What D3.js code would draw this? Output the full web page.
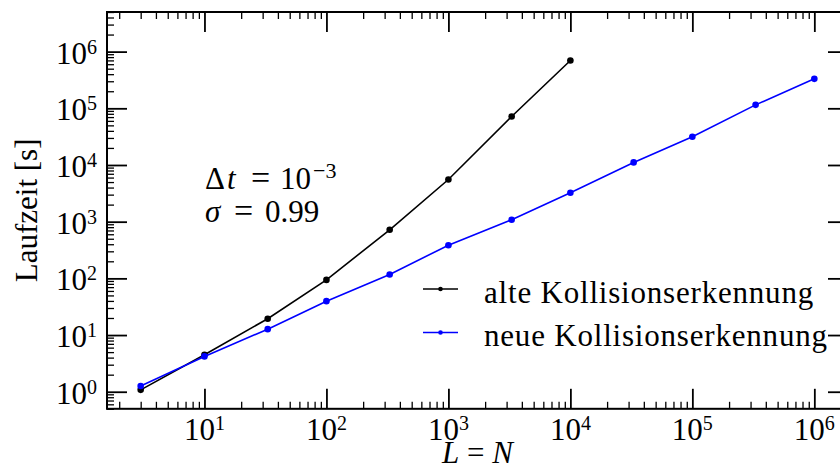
<!DOCTYPE html>
<html>
<head>
<meta charset="utf-8">
<script src="https://cdn.jsdelivr.net/npm/d3@7"></script>
<style>
  html, body { margin: 0; padding: 0; background: #fff; }
  svg { display: block; }
</style>
</head>
<body>
<svg id="chart" width="840" height="470"></svg>
<script>
// System sizes L = N and measured run times in seconds
const sizes = [3, 10, 33, 100, 330, 1000, 3300, 10000, 33000, 100000, 330000, 1000000];
const alteZeit = [1.08, 4.5, 19.4, 94, 720, 5550, 71700, 697000];
const neueZeit = [1.26, 4.2, 12.7, 39.6, 117, 385, 1080, 3235, 11100, 31400, 115000, 331000];

// Axis tick exponents (labels are drawn as 10^k)
const xTickExp = [1, 2, 3, 4, 5, 6];
const yTickExp = [0, 1, 2, 3, 4, 5, 6];

const seriesNames = ["alte Kollisionserkennung", "neue Kollisionserkennung"];
const seriesColors = ["#000000", "#0000ff"];

const FONT = "Liberation Serif";
const svg = d3.select("#chart").style("font-family", FONT);
const plotLeft = 107, plotRight = 848, plotTop = 12, plotBottom = 408.8;

const x = d3.scaleLog().domain([Math.pow(10, 0.201), Math.pow(10, 6.276)]).range([plotLeft, plotRight]);
const y = d3.scaleLog().domain([0.5, 5e6]).range([plotBottom, plotTop]);

// minor tick positions 2..9 x 10^k inside the domain
function minorTicks(scale) {
  const [a, b] = scale.domain();
  const out = [];
  for (let k = Math.floor(Math.log10(a)) - 1; k <= Math.ceil(Math.log10(b)); k++) {
    for (let m = 2; m <= 9; m++) {
      const v = m * Math.pow(10, k);
      if (v >= a && v <= b) out.push(v);
    }
  }
  return out;
}
const xMajor = xTickExp.map(e => Math.pow(10, e));
const yMajor = [-1].concat(yTickExp).map(e => Math.pow(10, e)).filter(v => v >= 0.5);

function tickAxis(axisFn, scale, vals, size, translate, width) {
  const g = svg.append("g").attr("transform", translate)
    .call(axisFn(scale).tickValues(vals).tickSize(size).tickSizeOuter(0).tickFormat(""));
  g.select(".domain").remove();
  g.selectAll(".tick line").attr("stroke", "#000").attr("stroke-width", width);
  return g;
}

// inward ticks on all four sides
tickAxis(d3.axisBottom, x, xMajor, -20, `translate(0,${plotBottom})`, 1.8);
tickAxis(d3.axisBottom, x, minorTicks(x), -7, `translate(0,${plotBottom})`, 1.3);
tickAxis(d3.axisTop, x, xMajor, -20, `translate(0,${plotTop})`, 1.8);
tickAxis(d3.axisTop, x, minorTicks(x), -7, `translate(0,${plotTop})`, 1.3);
tickAxis(d3.axisLeft, y, yMajor, -20, `translate(${plotLeft},0)`, 1.8);
tickAxis(d3.axisLeft, y, minorTicks(y), -7, `translate(${plotLeft},0)`, 1.3);
tickAxis(d3.axisRight, y, yMajor, -20, `translate(${plotRight},0)`, 1.8);
tickAxis(d3.axisRight, y, minorTicks(y), -7, `translate(${plotRight},0)`, 1.3);

// frame
svg.append("rect")
  .attr("x", plotLeft).attr("y", plotTop)
  .attr("width", plotRight - plotLeft).attr("height", plotBottom - plotTop)
  .attr("fill", "none").attr("stroke", "#000").attr("stroke-width", 2);

function txt(sel) {
  return sel.style("font-family", FONT).attr("fill", "#000");
}

// tick labels 10^k
const xl = txt(svg.append("g").selectAll("text").data(xTickExp).join("text"))
  .attr("x", d => x(Math.pow(10, d)))
  .attr("y", 440)
  .attr("text-anchor", "middle")
  .attr("font-size", 31);
xl.append("tspan").text("10");
xl.append("tspan").attr("dy", -10).attr("font-size", 20).text(d => d);

const yl = txt(svg.append("g").selectAll("text").data(yTickExp).join("text"))
  .attr("x", 97)
  .attr("y", d => y(Math.pow(10, d)) + 12)
  .attr("text-anchor", "end")
  .attr("font-size", 31);
yl.append("tspan").text("10");
yl.append("tspan").attr("dy", -10).attr("font-size", 20).text(d => d);

// axis titles
txt(svg.append("text"))
  .attr("transform", `translate(37,${(plotTop + plotBottom) / 2}) rotate(-90)`)
  .attr("text-anchor", "middle").attr("font-size", 31)
  .text("Laufzeit [s]");

const xt = txt(svg.append("text"))
  .attr("x", (plotLeft + plotRight) / 2).attr("y", 463)
  .attr("text-anchor", "middle").attr("font-size", 31);
xt.append("tspan").attr("font-style", "italic").text("L");
xt.append("tspan").text(" = ");
xt.append("tspan").attr("font-style", "italic").text("N");

// data series
const series = [
  { name: seriesNames[0], color: seriesColors[0], pts: alteZeit.map((v, i) => [sizes[i], v]) },
  { name: seriesNames[1], color: seriesColors[1], pts: neueZeit.map((v, i) => [sizes[i], v]) }
];
const line = d3.line().x(d => x(d[0])).y(d => y(d[1]));

series.forEach(s => {
  svg.append("path").datum(s.pts)
    .attr("d", line).attr("fill", "none")
    .attr("stroke", s.color).attr("stroke-width", 1.6);
  svg.append("g").selectAll("circle").data(s.pts).join("circle")
    .attr("cx", d => x(d[0])).attr("cy", d => y(d[1]))
    .attr("r", 3.3).attr("fill", s.color);
});

// simulation parameters, set with math-style spacing
const a1 = txt(svg.append("text")).attr("y", 189).attr("font-size", 31);
a1.append("tspan").attr("x", 205).text("Δ");
a1.append("tspan").attr("x", 227).attr("font-style", "italic").text("t");
a1.append("tspan").attr("x", 251).attr("font-size", 34).text("=");
a1.append("tspan").attr("x", 280).text("10");
a1.append("tspan").attr("x", 313).attr("dy", -11).attr("font-size", 22).text("−3");

const a2 = txt(svg.append("text")).attr("y", 222).attr("font-size", 31);
a2.append("tspan").attr("x", 205).attr("font-style", "italic").text("σ");
a2.append("tspan").attr("x", 234).attr("font-size", 34).text("=");
a2.append("tspan").attr("x", 265).text("0.99");

// legend
const lg = svg.append("g").selectAll("g").data(series).join("g")
  .attr("transform", (d, i) => `translate(0,${289 + i * 43.5})`);
lg.append("line").attr("x1", 423).attr("x2", 458).attr("y1", 0).attr("y2", 0)
  .attr("stroke", d => d.color).attr("stroke-width", 1.6);
lg.append("circle").attr("cx", 440.5).attr("cy", 0).attr("r", 2.3).attr("fill", d => d.color);
txt(lg.append("text")).attr("x", 484).attr("y", 13.5).attr("font-size", 31)
  .attr("letter-spacing", 0.8)
  .text(d => d.name);
</script>
</body>
</html>
